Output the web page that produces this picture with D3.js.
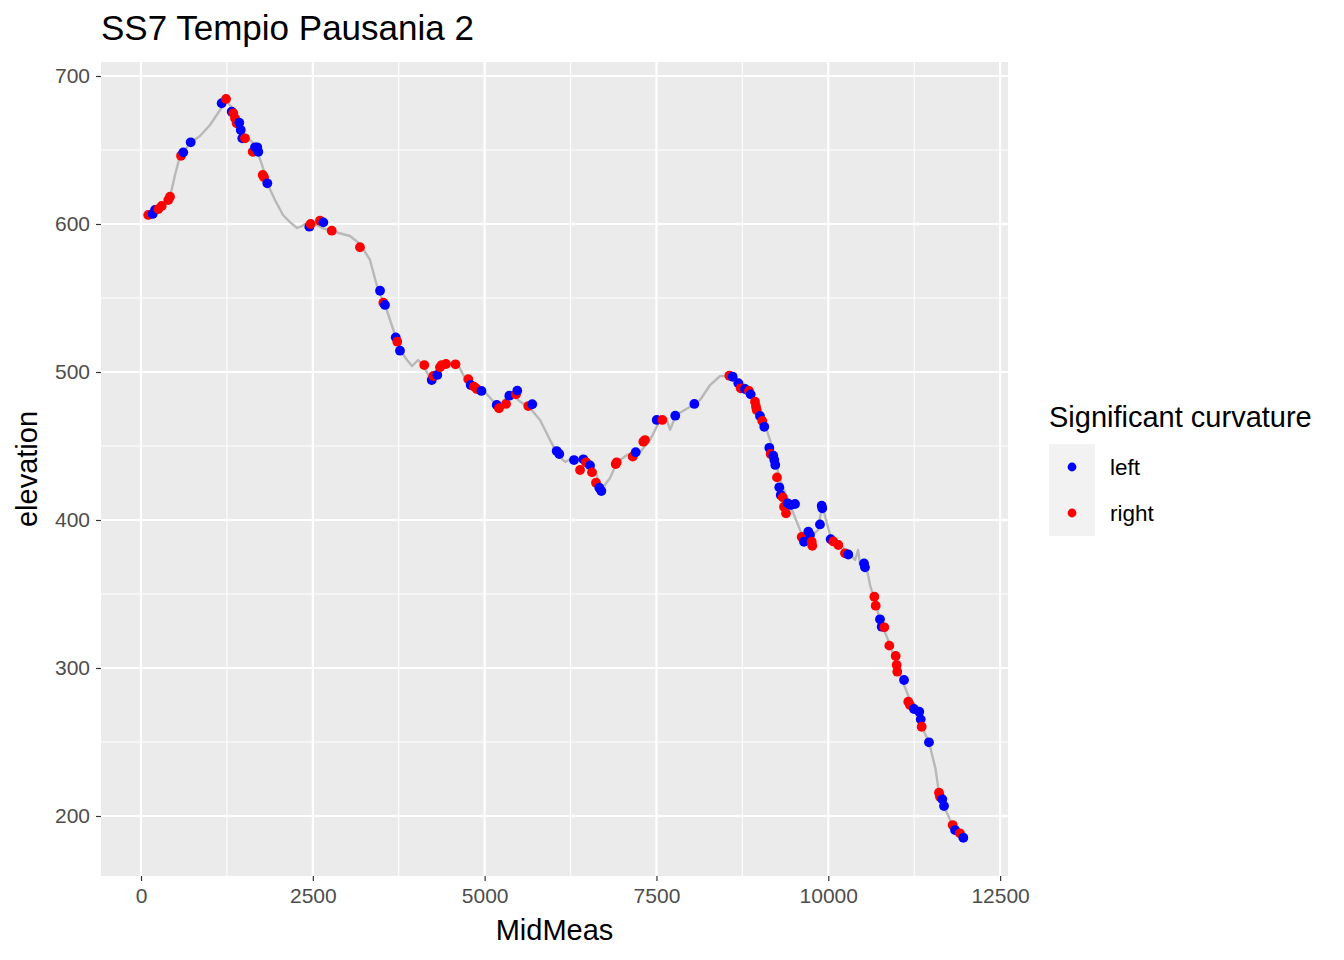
<!DOCTYPE html>
<html><head><meta charset="utf-8">
<script src="https://cdn.jsdelivr.net/npm/d3@7"></script>
<style>body{margin:0;background:#fff}svg{display:block}text{font-family:"Liberation Sans",Arial,Helvetica,sans-serif}</style>
</head><body><svg id="c" width="1344" height="960"></svg>
<script>
const title = "SS7 Tempio Pausania 2";
const xLabel = "MidMeas";
const yLabel = "elevation";
const legendTitle = "Significant curvature";
const categories = ["left", "right"];
const colors = ["#0000FF", "#FF0000"];
const xTicks = [0, 2500, 5000, 7500, 10000, 12500];
const yTicks = [200, 300, 400, 500, 600, 700];

// elevation profile [MidMeas, elevation]
const profile = [
 [29,606],[204,607.4],[349,612.8],[422,618.2],[495,633.1],[567,645.9],[640,650],[713,654.7],[858,659.5],
 [1004,666.9],[1150,677],[1237,683.8],[1368,675.7],[1441,666.9],[1513,660.1],[1659,653.4],[1761,639.9],
 [1848,626.3],[1950,616.2],[2066,606.1],[2168,601.3],[2270,597.3],[2343,598.6],[2430,601.3],[2532,600],
 [2634,597.3],[2823,594.6],[3041,591.9],[3187,586.5],[3332,575.7],[3449,555.4],[3551,545.3],[3696,525],
 [3769,514.9],[3871,508.1],[3943,504],[4031,508.1],[4103,504.7],[4205,495.9],[4351,501.3],[4496,506.1],
 [4613,504.7],[4715,495.9],[4860,489.2],[5006,486.5],[5108,481.1],[5180,475.7],[5253,479.1],[5340,484.5],
 [5413,486.5],[5486,481.1],[5588,477.7],[5660,475.7],[5806,467.6],[5952,454],[6068,443.9],[6170,439.2],
 [6272,441.9],[6388,440.5],[6505,439.2],[6607,433.8],[6694,420.3],[6825,428.4],[6927,439.2],[7072,443.9],
 [7261,446],[7407,454.1],[7552,467.6],[7640,469],[7698,461],[7785,471],[7960,475.7],[8135,481.1],
 [8280,491.2],[8426,497.3],[8571,497.3],[8717,494.6],[8862,487.8],[9008,474.3],[9153,454],[9299,427],
 [9444,410.1],[9590,393.2],[9662,386.5],[9764,389.9],[9851,393.2],[9910,410.1],[9968,400],[10026,389.9],
 [10172,383.1],[10317,376.4],[10390,373],[10434,379.7],[10463,369.6],[10535,373],[10608,356.1],
 [10754,332.4],[10899,315.5],[11045,295.3],[11190,278.4],[11336,263],[11465,249.8],[11560,232],
 [11611,215.5],[11684,206.5],[11810,193.5],[11916,188],[11990,185.1]
];

const leftPts = [
 [170,606.8],[204,609.5],[615,648.4],[723,655.2],[1174,681.6],[1320,675.9],[1430,668.4],[1451,663.5],
 [1474,657.9],[1659,651.8],[1692,651.8],[1707,648.8],[1838,627.5],[2449,598.2],[2653,601.1],
 [3478,554.9],[3550,545.3],[3706,523.4],[3768,514.4],[4230,494.6],[4311,498],[4797,491.2],[4954,487.2],
 [5176,477.7],[5359,484],[5475,487.4],[5693,478.2],[6048,446.6],[6086,444.6],[6300,440.5],[6436,441],
 [6533,436.9],[6668,421.8],[6698,419.6],[7198,445.8],[7504,467.6],[7774,470.5],[8051,478.4],
 [8609,496.8],[8691,492.4],[8788,488.5],[8871,484.9],[9006,470.3],[9069,463],[9142,448.8],[9200,443.4],
 [9215,440.5],[9229,437.2],[9287,422.1],[9308,416.9],[9409,411.3],[9453,410.1],[9516,410.8],[9647,385.3],
 [9709,392.1],[9734,389.9],[9879,397],[9904,409.7],[9913,407.9],[10035,387],[10291,376.7],[10520,370.7],
 [10534,368],[10752,332.9],[10777,327.9],[11102,291.9],[11247,272.3],[11324,270.5],[11345,265.3],
 [11465,249.8],[11659,211.3],[11684,206.7],[11844,190.5],[11965,185.3]
];
const rightPts = [
 [106,606.1],[252,610.1],[301,612.2],[397,616.2],[422,618.4],[582,646.1],[1237,684.5],[1343,674.8],
 [1368,671.4],[1392,668],[1513,657.9],[1625,648.8],[1771,633.1],[1790,631.6],[2469,600],[2604,602.2],
 [2775,595.5],[3186,584.3],[3526,546.8],[3729,520.5],[4122,504.7],[4253,497.3],[4350,503.2],[4375,504.7],
 [4438,505.4],[4576,505.2],[4762,495.1],[4845,490.1],[4885,488.5],[5209,475.5],[5311,478.4],[5456,484.9],
 [5635,477],[6388,433.8],[6475,439],[6562,432.2],[6620,425.2],[6907,437.8],[6922,439],[7154,442.8],
 [7309,452.9],[7333,454],[7585,467.6],[8560,497.5],[8726,489],[8846,487.2],[8934,479.9],[8948,476.5],
 [8958,474.3],[9040,466.9],[9162,444.6],[9254,428.8],[9337,415.3],[9356,409],[9385,404.5],[9613,388.5],
 [9759,385.3],[9767,382.6],[10073,385.5],[10146,383.1],[10243,377.5],[10670,348.2],[10690,342.1],
 [10815,327.5],[10888,315.1],[10981,308.1],[10995,302],[11004,297.5],[11164,277.2],[11189,275],
 [11359,260.3],[11611,215.7],[11625,213],[11810,193.9],[11916,188.3]
];

const svg = d3.select("#c");
const P = {l:101, t:62, r:1008, b:876};
const x = d3.scaleLinear().domain([-582, 12615]).range([P.l, P.r]);
const y = d3.scaleLinear().domain([159.46, 709.46]).range([P.b, P.t]);

svg.append("rect").attr("x",P.l).attr("y",P.t).attr("width",P.r-P.l).attr("height",P.b-P.t).attr("fill","#EBEBEB");
const g = svg.append("g");
const xMinor = xTicks.slice(0,-1).map(d=>d+1250);
const yMinor = yTicks.slice(0,-1).map(d=>d+50);
g.selectAll(".xm").data(xMinor).join("line").attr("x1",d=>x(d)).attr("x2",d=>x(d)).attr("y1",P.t).attr("y2",P.b).attr("stroke","#fff").attr("stroke-width",1.1);
g.selectAll(".ym").data(yMinor).join("line").attr("y1",d=>y(d)).attr("y2",d=>y(d)).attr("x1",P.l).attr("x2",P.r).attr("stroke","#fff").attr("stroke-width",1.1);
g.selectAll(".xM").data(xTicks).join("line").attr("x1",d=>x(d)).attr("x2",d=>x(d)).attr("y1",P.t).attr("y2",P.b).attr("stroke","#fff").attr("stroke-width",2.2);
g.selectAll(".yM").data(yTicks).join("line").attr("y1",d=>y(d)).attr("y2",d=>y(d)).attr("x1",P.l).attr("x2",P.r).attr("stroke","#fff").attr("stroke-width",2.2);

svg.append("path").datum(profile).attr("d", d3.line().x(d=>x(d[0])).y(d=>y(d[1])))
 .attr("fill","none").attr("stroke","#B8B8B8").attr("stroke-width",2.4).attr("stroke-linejoin","round");

const pts = leftPts.map(d=>({x:d[0],y:d[1],c:0})).concat(rightPts.map(d=>({x:d[0],y:d[1],c:1}))).sort((a,b)=>a.x-b.x);
svg.append("g").selectAll("circle").data(pts).join("circle")
 .attr("cx",d=>x(d.x)).attr("cy",d=>y(d.y)).attr("r",4.9).attr("fill",d=>colors[d.c]);

const xa = svg.append("g").attr("transform",`translate(0,${P.b})`).call(d3.axisBottom(x).tickValues(xTicks).tickSize(5).tickPadding(4).tickFormat(d3.format("d")));
const ya = svg.append("g").attr("transform",`translate(${P.l},0)`).call(d3.axisLeft(y).tickValues(yTicks).tickSize(5).tickPadding(6).tickFormat(d3.format("d")));
[xa,ya].forEach(a=>{a.select(".domain").remove();a.selectAll("line").attr("stroke","#333").attr("stroke-width",1.2);
 a.selectAll("text").attr("fill","#4D4D4D").style("font-size","21px");});
xa.selectAll("text").attr("dy","0.85em");

svg.append("text").attr("x",(P.l+P.r)/2).attr("y",940).attr("text-anchor","middle").style("font-size","29px").attr("fill","#000").text(xLabel);
svg.append("text").attr("transform",`translate(37,${(P.t+P.b)/2}) rotate(-90)`).attr("text-anchor","middle").style("font-size","29px").attr("fill","#000").text(yLabel);
svg.append("text").attr("x",101).attr("y",40).style("font-size","35px").attr("fill","#000").text(title);

const L = svg.append("g");
L.append("text").attr("x",1049).attr("y",427).style("font-size","29px").text(legendTitle);
categories.forEach((c,i)=>{
  const yy = 444 + i*46;
  L.append("rect").attr("x",1049).attr("y",yy).attr("width",46).attr("height",46).attr("fill","#F2F2F2");
  L.append("circle").attr("cx",1072).attr("cy",yy+23).attr("r",4.4).attr("fill",colors[i]);
  L.append("text").attr("x",1110).attr("y",yy+23).attr("dy","0.35em").style("font-size","22.5px").text(c);
});
</script></body></html>
